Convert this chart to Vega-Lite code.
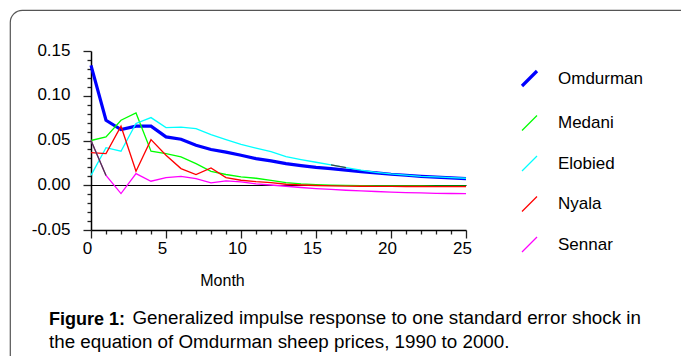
{
  "$schema": "https://vega.github.io/schema/vega-lite/v6.json",
  "width": 691,
  "height": 360,
  "autosize": {"type": "none"},
  "padding": {"left": 10, "top": 10, "right": -20, "bottom": -14},
  "background": "white",
  "config": {
    "view": {"stroke": "#555555", "strokeWidth": 1.2, "cornerRadius": 12},
    "font": "Liberation Sans",
    "axis": {"labelOverlap": false, "labelFlush": false}
  },
  "title": {
    "text": "Figure 1:",
    "subtitle": ["\u200b\u00a0\u00a0\u00a0\u00a0\u00a0\u00a0\u00a0\u00a0\u00a0\u00a0\u00a0\u00a0\u00a0\u00a0\u00a0\u00a0Generalized impulse response to one standard error shock in", "the equation of Omdurman sheep prices, 1990 to 2000."],
    "orient": "bottom",
    "anchor": "start",
    "frame": "group",
    "offset": -59,
    "dx": 39,
    "font": "Liberation Sans",
    "fontSize": 18,
    "fontWeight": "bold",
    "color": "black",
    "subtitleFont": "Liberation Sans",
    "subtitleFontSize": 18.8,
    "subtitleColor": "black",
    "subtitleFontWeight": "normal",
    "subtitlePadding": -20,
    "subtitleLineHeight": 23.5
  },
  "data": {"name": "d"},
  "datasets": {
    "d": [
      {"t":0,"s":"Omdurman","v":0.134},{"t":1,"s":"Omdurman","v":0.0726},{"t":2,"s":"Omdurman","v":0.0622},{"t":3,"s":"Omdurman","v":0.066},{"t":4,"s":"Omdurman","v":0.066},{"t":5,"s":"Omdurman","v":0.054},{"t":6,"s":"Omdurman","v":0.0514},{"t":7,"s":"Omdurman","v":0.0447},{"t":8,"s":"Omdurman","v":0.040},{"t":9,"s":"Omdurman","v":0.037},{"t":10,"s":"Omdurman","v":0.0335},{"t":11,"s":"Omdurman","v":0.0298},{"t":12,"s":"Omdurman","v":0.0272},{"t":13,"s":"Omdurman","v":0.0242},{"t":14,"s":"Omdurman","v":0.022},{"t":15,"s":"Omdurman","v":0.020},{"t":16,"s":"Omdurman","v":0.0186},{"t":17,"s":"Omdurman","v":0.0168},{"t":18,"s":"Omdurman","v":0.0153},{"t":19,"s":"Omdurman","v":0.0138},{"t":20,"s":"Omdurman","v":0.0123},{"t":21,"s":"Omdurman","v":0.0112},{"t":22,"s":"Omdurman","v":0.0100},{"t":23,"s":"Omdurman","v":0.009},{"t":24,"s":"Omdurman","v":0.0082},{"t":25,"s":"Omdurman","v":0.0075},
      {"t":0,"s":"Medani","v":0.050},{"t":1,"s":"Medani","v":0.054},{"t":2,"s":"Medani","v":0.0726},{"t":3,"s":"Medani","v":0.0808},{"t":4,"s":"Medani","v":0.038},{"t":5,"s":"Medani","v":0.0354},{"t":6,"s":"Medani","v":0.0317},{"t":7,"s":"Medani","v":0.0242},{"t":8,"s":"Medani","v":0.0156},{"t":9,"s":"Medani","v":0.012},{"t":10,"s":"Medani","v":0.0093},{"t":11,"s":"Medani","v":0.0078},{"t":12,"s":"Medani","v":0.0055},{"t":13,"s":"Medani","v":0.003},{"t":14,"s":"Medani","v":0.0015},{"t":15,"s":"Medani","v":0.0007},{"t":16,"s":"Medani","v":0.0002},{"t":17,"s":"Medani","v":-0.0002},{"t":18,"s":"Medani","v":-0.0004},{"t":19,"s":"Medani","v":-0.0006},{"t":20,"s":"Medani","v":-0.0007},{"t":21,"s":"Medani","v":-0.0008},{"t":22,"s":"Medani","v":-0.0008},{"t":23,"s":"Medani","v":-0.0009},{"t":24,"s":"Medani","v":-0.0009},{"t":25,"s":"Medani","v":-0.001},
      {"t":0,"s":"Elobied","v":0.011},{"t":1,"s":"Elobied","v":0.042},{"t":2,"s":"Elobied","v":0.038},{"t":3,"s":"Elobied","v":0.069},{"t":4,"s":"Elobied","v":0.0756},{"t":5,"s":"Elobied","v":0.0644},{"t":6,"s":"Elobied","v":0.065},{"t":7,"s":"Elobied","v":0.0633},{"t":8,"s":"Elobied","v":0.0566},{"t":9,"s":"Elobied","v":0.051},{"t":10,"s":"Elobied","v":0.0458},{"t":11,"s":"Elobied","v":0.0415},{"t":12,"s":"Elobied","v":0.0375},{"t":13,"s":"Elobied","v":0.032},{"t":14,"s":"Elobied","v":0.0287},{"t":15,"s":"Elobied","v":0.0257},{"t":16,"s":"Elobied","v":0.0227},{"t":17,"s":"Elobied","v":0.0198},{"t":18,"s":"Elobied","v":0.0168},{"t":19,"s":"Elobied","v":0.0145},{"t":20,"s":"Elobied","v":0.0126},{"t":21,"s":"Elobied","v":0.0112},{"t":22,"s":"Elobied","v":0.010},{"t":23,"s":"Elobied","v":0.0093},{"t":24,"s":"Elobied","v":0.0086},{"t":25,"s":"Elobied","v":0.0078},
      {"t":0,"s":"Nyala","v":0.0365},{"t":1,"s":"Nyala","v":0.0354},{"t":2,"s":"Nyala","v":0.066},{"t":3,"s":"Nyala","v":0.0156},{"t":4,"s":"Nyala","v":0.051},{"t":5,"s":"Nyala","v":0.0335},{"t":6,"s":"Nyala","v":0.0186},{"t":7,"s":"Nyala","v":0.012},{"t":8,"s":"Nyala","v":0.0194},{"t":9,"s":"Nyala","v":0.0086},{"t":10,"s":"Nyala","v":0.0056},{"t":11,"s":"Nyala","v":0.004},{"t":12,"s":"Nyala","v":0.003},{"t":13,"s":"Nyala","v":0.0011},{"t":14,"s":"Nyala","v":0.0003},{"t":15,"s":"Nyala","v":-0.0003},{"t":16,"s":"Nyala","v":-0.0007},{"t":17,"s":"Nyala","v":-0.0009},{"t":18,"s":"Nyala","v":-0.0011},{"t":19,"s":"Nyala","v":-0.0012},{"t":20,"s":"Nyala","v":-0.0013},{"t":21,"s":"Nyala","v":-0.0014},{"t":22,"s":"Nyala","v":-0.0014},{"t":23,"s":"Nyala","v":-0.0015},{"t":24,"s":"Nyala","v":-0.0015},{"t":25,"s":"Nyala","v":-0.0015},
      {"t":0,"s":"Sennar","v":0.050},{"t":1,"s":"Sennar","v":0.011},{"t":2,"s":"Sennar","v":-0.0093},{"t":3,"s":"Sennar","v":0.013},{"t":4,"s":"Sennar","v":0.0045},{"t":5,"s":"Sennar","v":0.0086},{"t":6,"s":"Sennar","v":0.010},{"t":7,"s":"Sennar","v":0.0075},{"t":8,"s":"Sennar","v":0.0026},{"t":9,"s":"Sennar","v":0.0048},{"t":10,"s":"Sennar","v":0.0037},{"t":11,"s":"Sennar","v":0.0015},{"t":12,"s":"Sennar","v":0.0003},{"t":13,"s":"Sennar","v":-0.0011},{"t":14,"s":"Sennar","v":-0.0025},{"t":15,"s":"Sennar","v":-0.0037},{"t":16,"s":"Sennar","v":-0.0047},{"t":17,"s":"Sennar","v":-0.0056},{"t":18,"s":"Sennar","v":-0.0063},{"t":19,"s":"Sennar","v":-0.007},{"t":20,"s":"Sennar","v":-0.0076},{"t":21,"s":"Sennar","v":-0.0082},{"t":22,"s":"Sennar","v":-0.0086},{"t":23,"s":"Sennar","v":-0.009},{"t":24,"s":"Sennar","v":-0.0092},{"t":25,"s":"Sennar","v":-0.0093}
    ]
  },
  "encoding": {
    "x": {
      "field": "t", "type": "quantitative",
      "scale": {"domain": [0, 25], "range": [81, 456], "nice": false, "zero": false},
      "axis": {
        "orient": "bottom", "offset": -140,
        "values": [0,1,2,3,4,5,6,7,8,9,10,11,12,13,14,15,16,17,18,19,20,21,22,23,24,25],
        "labelExpr": "datum.value % 5 == 0 ? datum.label : ''",
        "tickSize": {"condition": {"test": "datum.value % 5 == 0", "value": 8}, "value": 4},
        "tickColor": "#222222", "tickWidth": 1.3,
        "domainColor": "black", "domainWidth": 1.5,
        "labelFont": "Liberation Sans", "labelFontSize": 17, "labelColor": "black",
        "labelPadding": 2, "labelOffset": -4, "labelOverlap": false, "labelFlush": false,
        "grid": false,
        "title": "Month", "titleFont": "Liberation Sans", "titleFontSize": 16, "titleFontWeight": "normal",
        "titleColor": "black", "titleX": 212, "titleY": 50, "titleBaseline": "middle", "titleAlign": "center"
      }
    },
    "y": {
      "field": "v", "type": "quantitative",
      "scale": {"domain": [-0.05, 0.15], "range": [220, 41], "nice": false, "zero": false},
      "axis": {
        "orient": "left", "offset": -81,
        "values": [-0.05,-0.04,-0.03,-0.02,-0.01,0,0.01,0.02,0.03,0.04,0.05,0.06,0.07,0.08,0.09,0.1,0.11,0.12,0.13,0.14,0.15],
        "labelExpr": "abs(datum.value*20 - round(datum.value*20)) < 0.001 ? replace(format(datum.value, '.2f'), '\u2212', '-') : ''",
        "tickSize": {"condition": {"test": "abs(datum.value*20 - round(datum.value*20)) < 0.001", "value": 8}, "value": 4},
        "tickColor": "#222222", "tickWidth": 1.3,
        "domainColor": "black", "domainWidth": 1.5,
        "labelFont": "Liberation Sans", "labelFontSize": 17, "labelColor": "black",
        "labelPadding": 13, "labelOffset": -1, "labelOverlap": false, "labelFlush": false, "labelBound": false,
        "grid": true,
        "gridColor": {"condition": {"test": "abs(datum.value) < 0.0001", "value": "black"}, "value": "transparent"},
        "gridWidth": 1,
        "title": null
      }
    }
  },
  "layer": [
    {
      "mark": {"type": "line"},
      "encoding": {
        "color": {
          "field": "s", "type": "nominal",
          "scale": {"domain": ["Omdurman", "Medani", "Elobied", "Nyala", "Sennar"], "range": ["#0000ff", "#00ff00", "#00ffff", "#ff0000", "#ff00ff"]},
          "legend": {
            "orient": "none", "legendX": 510, "legendY": 59, "title": null,
            "symbolType": "M-1,1L1,-1", "symbolSize": 225, "symbolFillColor": "transparent",
            "labelFont": "Liberation Sans", "labelFontSize": 17, "labelColor": "black",
            "labelOffset": 19, "rowPadding": 19.5
          }
        },
        "strokeWidth": {
          "field": "s", "type": "nominal",
          "scale": {"type": "ordinal", "domain": ["Omdurman", "Medani", "Elobied", "Nyala", "Sennar"], "range": [3.2, 1.3, 1.3, 1.3, 1.3]},
          "legend": {
            "orient": "none", "legendX": 510, "legendY": 59, "title": null,
            "symbolType": "M-1,1L1,-1", "symbolSize": 225, "symbolFillColor": "transparent",
            "labelFont": "Liberation Sans", "labelFontSize": 17, "labelColor": "black",
            "labelOffset": 19, "rowPadding": 19.5
          }
        }
      }
    },
    {
      "transform": [{"filter": "(datum.s == 'Sennar' && datum.t <= 1) || (datum.s == 'Elobied' && datum.t >= 16 && datum.t <= 17)"}],
      "mark": {"type": "line", "color": "#444444", "strokeWidth": 1.3},
      "encoding": {
        "detail": {"field": "s", "type": "nominal"}
      }
    }
  ]
}
